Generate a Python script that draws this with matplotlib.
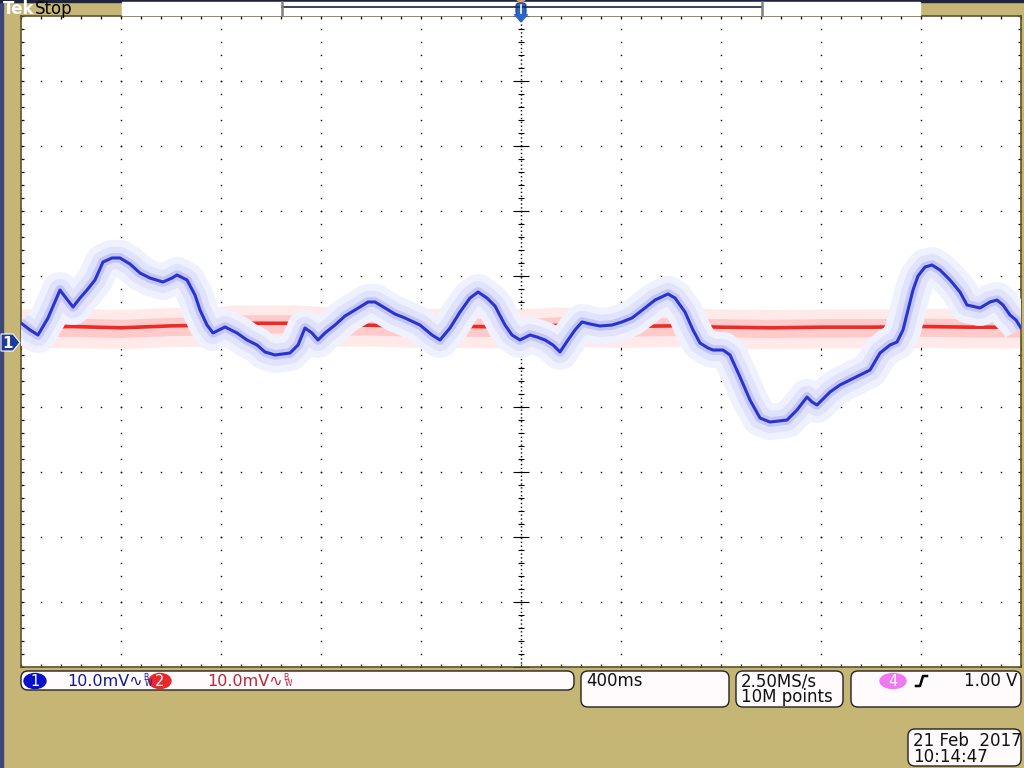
import numpy as np
import matplotlib
matplotlib.use('Agg')
import matplotlib.pyplot as plt
from matplotlib.patches import FancyBboxPatch, Polygon, Rectangle, Ellipse

# Channel 1 (blue) - time in seconds, amplitude in mV
ch1_t = [-2.0, -1.964, -1.932, -1.892, -1.844, -1.82, -1.792, -1.764, -1.736, -1.704,
         -1.672, -1.636, -1.604, -1.564, -1.524, -1.484, -1.432, -1.396, -1.376, -1.336,
         -1.304, -1.284, -1.256, -1.232, -1.184, -1.136, -1.096, -1.056, -1.024, -0.984,
         -0.924, -0.892, -0.864, -0.836, -0.812, -0.784, -0.744, -0.704, -0.664, -0.612,
         -0.584, -0.544, -0.504, -0.464, -0.404, -0.356, -0.324, -0.284, -0.244, -0.204,
         -0.172, -0.136, -0.104, -0.064, -0.036, -0.004, 0.036, 0.064, 0.096, 0.128,
         0.156, 0.188, 0.216, 0.244, 0.276, 0.316, 0.364, 0.404, 0.444, 0.496,
         0.536, 0.588, 0.616, 0.656, 0.688, 0.716, 0.748, 0.768, 0.808, 0.836,
         0.876, 0.916, 0.956, 0.996, 1.064, 1.104, 1.144, 1.164, 1.184, 1.216,
         1.236, 1.276, 1.316, 1.356, 1.396, 1.436, 1.476, 1.504, 1.528, 1.548,
         1.568, 1.588, 1.616, 1.644, 1.676, 1.716, 1.756, 1.784, 1.836, 1.876,
         1.904, 1.928, 1.956, 1.98, 2.0]
ch1_mv = [2.84, 1.77, 1.00, 3.61, 7.91, 6.68, 5.30, 6.68, 7.91, 9.45,
          12.21, 12.83, 12.83, 11.90, 10.52, 9.75, 9.14, 9.75, 10.22, 9.45,
          7.14, 4.84, 2.53, 1.31, 2.23, 1.31, 0.23, -0.54, -1.61, -2.07,
          -1.77, -0.54, 2.07, 1.31, 0.23, 1.31, 2.53, 3.92, 4.84, 6.07,
          6.07, 5.15, 4.22, 3.61, 2.53, 1.00, 0.23, 2.07, 4.53, 6.68,
          7.60, 6.68, 5.45, 2.53, 1.00, 0.23, 1.00, 0.69, 0.23, -0.54,
          -1.61, 0.23, 1.77, 3.00, 2.69, 2.38, 2.53, 3.00, 3.61, 5.15,
          6.37, 7.30, 6.68, 4.53, 1.77, -0.23, -1.00, -1.31, -1.31, -2.07,
          -5.45, -8.99, -11.75, -12.37, -12.06, -10.52, -8.53, -9.29, -9.75, -8.53,
          -7.76, -6.68, -5.91, -5.15, -4.38, -1.77, -0.54, -0.08, 1.77, 4.84,
          7.91, 10.06, 11.44, 11.75, 10.98, 9.45, 7.60, 5.61, 5.15, 6.07,
          6.37, 5.61, 4.07, 3.30, 2.07]

# Channel 2 (red)
ch2_t = [-2.0, -1.8, -1.6, -1.4, -1.25, -1.15, -0.9, -0.75, -0.6, -0.45,
         -0.2, 0.0, 0.15, 0.4, 0.6, 0.8, 1.0, 1.2, 1.4, 1.6, 1.8, 2.0]
ch2_mv = [2.2, 2.3, 2.1, 2.4, 2.5, 2.8, 2.8, 2.5, 2.5, 2.3,
          2.3, 2.2, 2.5, 2.3, 2.4, 2.2, 2.1, 2.2, 2.2, 2.3, 2.2, 2.2]

sec_per_div = 0.4
mv_per_div = 10.0

bezel = '#c6b676'
fig = plt.figure(figsize=(10.24, 7.68), dpi=100, facecolor=bezel)

# plot area (pixel box 21..1021 x 16..667)
ax = fig.add_axes([21 / 1024, (768 - 667) / 768, 1000 / 1024, 651 / 768])
ax.set_facecolor('white')
ax.set_xlim(-5 * sec_per_div, 5 * sec_per_div)
ax.set_ylim(-5 * mv_per_div, 5 * mv_per_div)
ax.set_xticks([])
ax.set_yticks([])
for s in ax.spines.values():
    s.set_color('#5e5428')
    s.set_linewidth(1.2)

# graticule
xmaj = np.arange(-2, 2.001, sec_per_div)
ymaj = np.arange(-50, 50.01, mv_per_div)
xmin = np.arange(-2, 2.001, sec_per_div / 5)
ymin = np.arange(-50, 50.01, mv_per_div / 5)
for xm in xmaj[1:-1]:
    if abs(xm) > 1e-6:
        ax.plot(np.full_like(ymin, xm), ymin, ls='none', marker='s', ms=1.0,
                mew=0, color='black', zorder=1)
for ym in ymaj[1:-1]:
    if abs(ym) > 1e-6:
        ax.plot(xmin, np.full_like(xmin, ym), ls='none', marker='s', ms=1.0,
                mew=0, color='black', zorder=1)
ax.plot([0, 0], [-50, 50], ls=(0, (1, 1.8)), lw=1.0, color='black', zorder=1)
ax.plot([-2, 2], [0, 0], ls=(0, (1, 1.8)), lw=1.0, color='black', zorder=1)
ax.plot(np.zeros_like(ymin), ymin, ls='none', marker='_', ms=5, mew=0.8,
        color='black', zorder=1)
ax.plot(xmin, np.zeros_like(xmin), ls='none', marker='|', ms=5, mew=0.8,
        color='black', zorder=1)
ax.plot(np.zeros_like(ymaj), ymaj, ls='none', marker='_', ms=11, mew=0.8,
        color='black', zorder=1)
ax.plot(xmaj, np.zeros_like(xmaj), ls='none', marker='|', ms=11, mew=0.8,
        color='black', zorder=1)
# edge ticks
ax.plot(xmin, np.full_like(xmin, 50), ls='none', marker='|', ms=4, mew=0.9, color='black', zorder=1)
ax.plot(xmin, np.full_like(xmin, -50), ls='none', marker='|', ms=4, mew=0.9, color='black', zorder=1)
ax.plot(np.full_like(ymin, -2), ymin, ls='none', marker='_', ms=4, mew=0.9, color='black', zorder=1)
ax.plot(np.full_like(ymin, 2), ymin, ls='none', marker='_', ms=4, mew=0.9, color='black', zorder=1)

# channel 2 (red) with persistence band
r_t = np.array(ch2_t)
r_v = np.array(ch2_mv)
ax.fill_between(r_t, r_v - 3.2, r_v + 2.8, color='#ffe9e9', lw=0, zorder=2)
ax.fill_between(r_t, r_v - 1.5, r_v + 1.3, color='#ffcaca', lw=0, zorder=2)
ax.plot(r_t, r_v, color='#ee2a26', lw=2.6, zorder=3)

# channel 1 (blue) with persistence halo
ax.plot(ch1_t, ch1_mv, color='#f0f1fe', lw=26, solid_joinstyle='round',
        solid_capstyle='butt', zorder=4)
ax.plot(ch1_t, ch1_mv, color='#e1e3fc', lw=16, solid_joinstyle='round',
        solid_capstyle='butt', zorder=4)
ax.plot(ch1_t, ch1_mv, color='#c3c7f7', lw=7, solid_joinstyle='round',
        solid_capstyle='butt', zorder=4)
ax.plot(ch1_t, ch1_mv, color='#2a32cf', lw=2.2, zorder=5)

# overlay in pixel coordinates for the scope furniture
ov = fig.add_axes([0, 0, 1, 1])
ov.set_xlim(0, 1024)
ov.set_ylim(768, 0)
ov.axis('off')
ov.patch.set_alpha(0)
ov.set_zorder(3)

ov.add_patch(Rectangle((0, 0), 3, 768, color='#3d4777'))
ov.add_patch(Rectangle((0, 0), 1024, 2, color='#1d2440'))
ov.add_patch(Rectangle((122, 2), 798, 12.5, color='white'))
ov.text(3, 8.5, 'Tek', color='white', fontsize=12, fontweight='bold', va='center')
ov.text(35, 8.5, 'Stop', color='black', fontsize=12, va='center')
ov.plot([282, 762], [7, 7], color='#1d2440', lw=1.2)
ov.plot([282, 282], [2, 15], color='#808080', lw=1.8)
ov.plot([762, 762], [2, 15], color='#808080', lw=1.8)
ov.add_patch(Polygon([(517, 0), (525, 0), (521, 3)], color='#d8a070'))
ov.add_patch(FancyBboxPatch((516, 3), 10, 12, boxstyle='round,pad=0,rounding_size=3',
                            fc='#2a66c8', ec='#1a3a90', lw=0.8))
ov.plot([521, 521], [5, 13], color='white', lw=1.2)
ov.add_patch(Polygon([(514.5, 14.5), (527.5, 14.5), (521, 22)], color='#2a66c8'))

# channel 1 ground marker
ov.add_patch(Polygon([(1, 334), (13, 334), (20, 342.5), (13, 351), (1, 351)],
                     fc='#1a3aa0', ec='white', lw=0.8))
ov.text(8, 343, '1', color='#fffff0', fontsize=11, fontweight='bold', ha='center', va='center')

box = dict(boxstyle='round,pad=0,rounding_size=7', fc='#fffafb', ec='#222222', lw=1)
ov.add_patch(FancyBboxPatch((21, 671), 553, 19, **box))
ov.add_patch(FancyBboxPatch((581, 671), 148, 36, **box))
ov.add_patch(FancyBboxPatch((736, 671), 107, 36, **box))
ov.add_patch(FancyBboxPatch((851, 671), 170, 36, **box))
ov.add_patch(FancyBboxPatch((908, 729), 113, 37, **box))

# channel readouts
ov.add_patch(Ellipse((35, 681), 22, 15, color='#0a10c8'))
ov.text(35, 681.5, '1', color='white', fontsize=10.5, ha='center', va='center')
ov.text(67, 681, '10.0mV\u223f', color='#101a90', fontsize=11.5, va='center')
ov.text(143, 677, 'B', color='#101a90', fontsize=5.5, va='center')
ov.text(145, 684, 'W', color='#101a90', fontsize=5.5, va='center')
ov.add_patch(Ellipse((160, 681), 22, 15, color='#e8282a'))
ov.text(160, 681.5, '2', color='white', fontsize=10.5, ha='center', va='center')
ov.text(207, 681, '10.0mV\u223f', color='#b02a38', fontsize=11.5, va='center')
ov.text(283, 677, 'B', color='#b02a38', fontsize=5.5, va='center')
ov.text(285, 684, 'W', color='#b02a38', fontsize=5.5, va='center')

ov.text(586, 681, '400ms', color='#111111', fontsize=12, va='center')
ov.text(741, 681, '2.50MS/s', color='#111111', fontsize=12, va='center')
ov.text(741, 697, '10M points', color='#111111', fontsize=12, va='center')
ov.add_patch(Ellipse((893, 681), 26, 15, color='#f078f0'))
ov.text(893, 681.5, '4', color='white', fontsize=10.5, ha='center', va='center')
ov.plot([916, 920, 923, 927], [686, 686, 676, 676], color='black', lw=1.8)
ov.text(1017, 681, '1.00 V', color='#111111', fontsize=12, ha='right', va='center')
ov.text(913, 741, '21 Feb  2017', color='#111111', fontsize=12, va='center')
ov.text(913, 757, '10:14:47', color='#111111', fontsize=12, va='center')

fig.savefig('out.png', dpi=100, facecolor=bezel)
